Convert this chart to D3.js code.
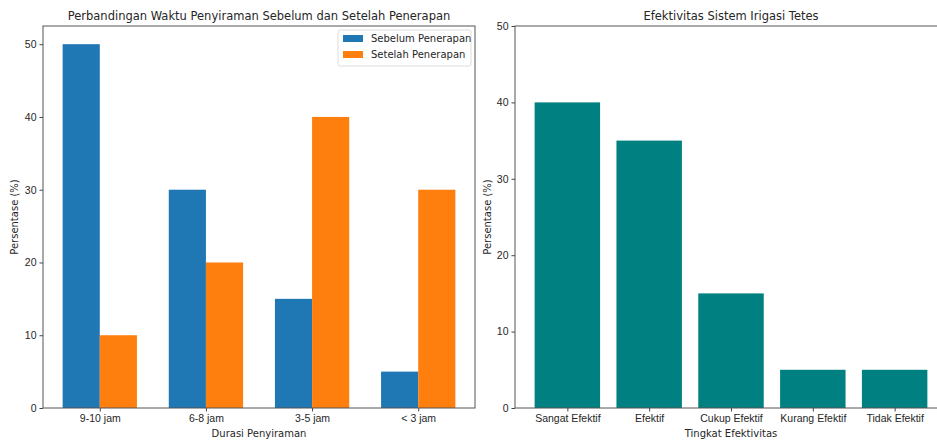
<!DOCTYPE html>
<html><head><meta charset="utf-8">
<script src="https://cdn.jsdelivr.net/npm/d3@7"></script>
<style>body{margin:0;background:#fff}svg{display:block;font-family:"DejaVu Sans",sans-serif}</style>
</head><body><svg id="c" width="937" height="441"></svg>
<script>
const durasi = ["9-10 jam","6-8 jam","3-5 jam","< 3 jam"];
const sebelum = [50,30,15,5];
const setelah = [10,20,40,30];
const seriesNames = ["Sebelum Penerapan","Setelah Penerapan"];
const tingkat = ["Sangat Efektif","Efektif","Cukup Efektif","Kurang Efektif","Tidak Efektif"];
const efektivitas = [40,35,15,5,5];
const yTicksLeft = [0,10,20,30,40,50];
const yTicksRight = [0,10,20,30,40,50];

const svg = d3.select("#c");
const plotTop = 26, plotBottom = 408;
const textCol = "#262626";

function styleAxis(g){
  g.selectAll("path.domain").remove();
  g.selectAll("line").attr("stroke","#444");
  g.selectAll("text").attr("fill",textCol).style("font-size","10.5px");
}

// LEFT CHART
{
  const L=43, R=475, bw=0.35;
  const x = d3.scaleLinear().domain([-0.535,3.535]).range([L,R]);
  const y = d3.scaleLinear().domain([0,52.5]).range([plotBottom,plotTop]);
  const g = svg.append("g");
  g.selectAll("rect.a").data(sebelum).join("rect").attr("class","a")
    .attr("x",(d,i)=>x(i-bw)).attr("width",(d,i)=>x(i)-x(i-bw))
    .attr("y",d=>y(d)).attr("height",d=>y(0)-y(d)).attr("fill","#1f77b4");
  g.selectAll("rect.b").data(setelah).join("rect").attr("class","b")
    .attr("x",(d,i)=>x(i)).attr("width",(d,i)=>x(i+bw)-x(i))
    .attr("y",d=>y(d)).attr("height",d=>y(0)-y(d)).attr("fill","#ff7f0e");
  g.append("g").attr("transform",`translate(0,${plotBottom})`)
    .call(d3.axisBottom(x).tickValues(d3.range(durasi.length)).tickFormat(i=>durasi[i]).tickSize(3.5).tickPadding(3)).call(styleAxis);
  g.append("g").attr("transform",`translate(${L},0)`)
    .call(d3.axisLeft(y).tickValues(yTicksLeft).tickSize(3.5).tickPadding(3)).call(styleAxis);
  g.append("rect").attr("x",L).attr("y",plotTop).attr("width",R-L).attr("height",plotBottom-plotTop)
    .attr("fill","none").attr("stroke","#555").attr("stroke-width",1);
  g.append("text").attr("x",(L+R)/2).attr("y",20).attr("text-anchor","middle")
    .attr("fill",textCol).style("font-size","11.5px").text("Perbandingan Waktu Penyiraman Sebelum dan Setelah Penerapan");
  g.append("text").attr("x",(L+R)/2).attr("y",437).attr("text-anchor","middle")
    .attr("fill",textCol).style("font-size","10px").text("Durasi Penyiraman");
  g.append("text").attr("transform",`translate(18,${(plotTop+plotBottom)/2}) rotate(-90)`).attr("text-anchor","middle")
    .attr("fill",textCol).style("font-size","10px").text("Persentase (%)");
  const lg = g.append("g");
  lg.append("rect").attr("x",338).attr("y",30).attr("width",133).attr("height",36).attr("rx",2)
    .attr("fill","#fff").attr("stroke","#ddd");
  const cols=["#1f77b4","#ff7f0e"];
  seriesNames.forEach((n,i)=>{
    lg.append("rect").attr("x",343).attr("y",35+i*16).attr("width",20).attr("height",7).attr("fill",cols[i]);
    lg.append("text").attr("x",371).attr("y",42+i*16).attr("fill",textCol).style("font-size","10px").text(n);
  });
}

// RIGHT CHART
{
  const L=515, R=947, bw=0.8;
  const x = d3.scaleLinear().domain([-0.64,4.64]).range([L,R]);
  const y = d3.scaleLinear().domain([0,50]).range([plotBottom,plotTop]);
  const g = svg.append("g");
  g.selectAll("rect.e").data(efektivitas).join("rect").attr("class","e")
    .attr("x",(d,i)=>x(i-bw/2)).attr("width",(d,i)=>x(i+bw/2)-x(i-bw/2))
    .attr("y",d=>y(d)).attr("height",d=>y(0)-y(d)).attr("fill","#008080");
  g.append("g").attr("transform",`translate(0,${plotBottom})`)
    .call(d3.axisBottom(x).tickValues(d3.range(tingkat.length)).tickFormat(i=>tingkat[i]).tickSize(3.5).tickPadding(3)).call(styleAxis);
  g.append("g").attr("transform",`translate(${L},0)`)
    .call(d3.axisLeft(y).tickValues(yTicksRight).tickSize(3.5).tickPadding(3)).call(styleAxis);
  g.append("rect").attr("x",L).attr("y",plotTop).attr("width",R-L).attr("height",plotBottom-plotTop)
    .attr("fill","none").attr("stroke","#555").attr("stroke-width",1);
  g.append("text").attr("x",(L+R)/2).attr("y",20).attr("text-anchor","middle")
    .attr("fill",textCol).style("font-size","11.5px").text("Efektivitas Sistem Irigasi Tetes");
  g.append("text").attr("x",(L+R)/2).attr("y",437).attr("text-anchor","middle")
    .attr("fill",textCol).style("font-size","10px").text("Tingkat Efektivitas");
  g.append("text").attr("transform",`translate(491,${(plotTop+plotBottom)/2}) rotate(-90)`).attr("text-anchor","middle")
    .attr("fill",textCol).style("font-size","10px").text("Persentase (%)");
}
</script></body></html>
